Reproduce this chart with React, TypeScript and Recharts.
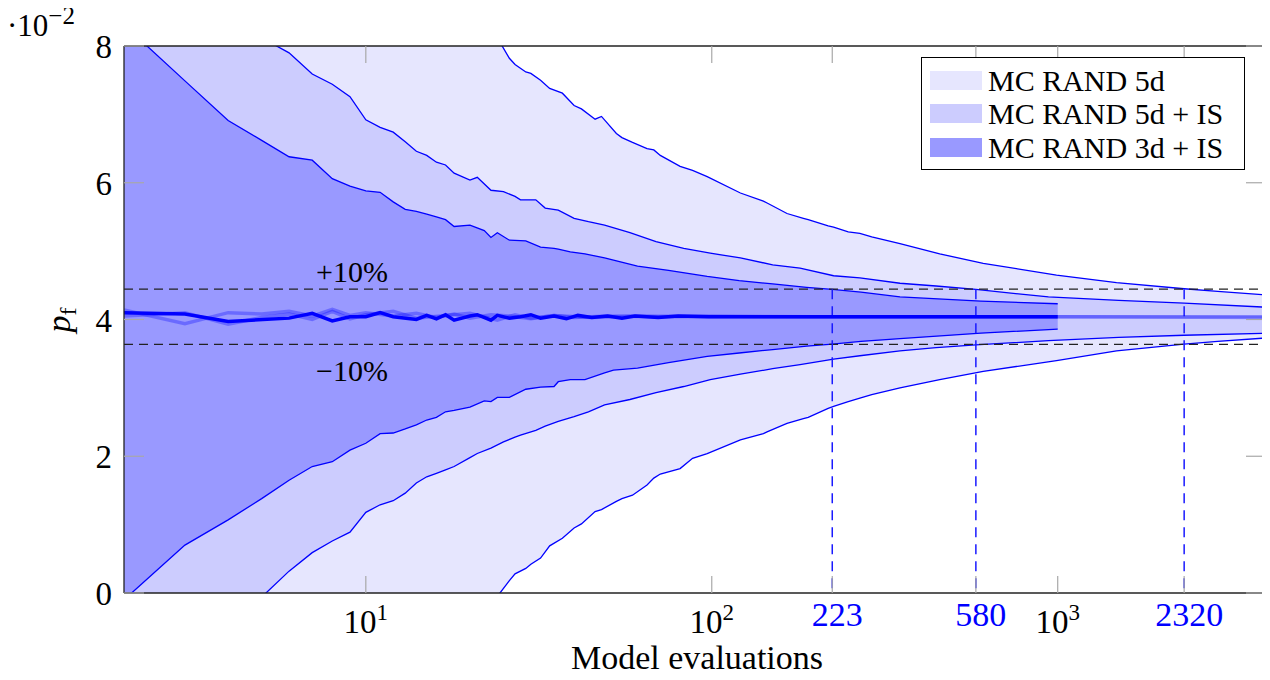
import React from 'react';
import { ComposedChart, Area, Line, XAxis, YAxis, ReferenceLine, Legend, Label } from 'recharts';

const FONT = "'Liberation Serif', 'DejaVu Serif', serif";

// ---------- axis / reference values ----------
const X_DOMAIN = [2, 4000];
const Y_DOMAIN = [0, 8];
const X_TICKS = [10, 100, 1000, 223, 580, 2320];
const POWER_TICKS = [10, 100, 1000];
const Y_TICKS = [0, 2, 4, 6, 8];
const PLUS_10 = 4.444;
const MINUS_10 = 3.636;
const CONVERGENCE_N = [223, 580, 2320];

// ---------- MC RAND 3d + IS ----------
const N_3D_IS = [2, 3, 4, 5, 6, 7, 8, 9, 10, 11, 12, 13, 14, 15, 16, 17, 18, 20, 22, 23, 24, 26, 29, 32, 35, 36, 39, 43, 49, 52, 61, 75, 97, 120, 150, 188, 223, 270, 350, 600, 1000];
const HI_3D_IS = [8.31, 7.49, 6.91, 6.62, 6.38, 6.33, 6.06, 5.95, 5.88, 5.86, 5.72, 5.61, 5.58, 5.54, 5.5, 5.46, 5.36, 5.38, 5.3, 5.2, 5.27, 5.16, 5.15, 5.06, 5.04, 5.03, 4.99, 4.96, 4.9, 4.87, 4.78, 4.72, 4.63, 4.57, 4.52, 4.47, 4.44, 4.4, 4.33, 4.27, 4.23];
const LO_3D_IS = [-0.1, 0.7, 1.07, 1.38, 1.65, 1.85, 1.92, 2.09, 2.19, 2.33, 2.34, 2.4, 2.46, 2.53, 2.57, 2.65, 2.67, 2.72, 2.81, 2.8, 2.86, 2.86, 2.98, 3.01, 3.02, 3.09, 3.12, 3.12, 3.22, 3.26, 3.29, 3.37, 3.46, 3.51, 3.56, 3.61, 3.64, 3.68, 3.72, 3.8, 3.86];

// ---------- MC RAND 5d + IS ----------
const N_5D_IS = [2, 3, 4, 5, 6, 7, 8, 9, 10, 11, 12, 13, 14, 15, 16, 17, 18, 20, 21, 23, 25, 27, 28, 31, 33, 36, 40, 44, 49, 58, 69, 83, 99, 121, 150, 180, 225, 268, 350, 445, 580, 940, 1500, 2320, 4000];
const HI_5D_IS = [10.5, 9.3, 8.6, 8.12, 7.9, 7.59, 7.44, 7.26, 6.92, 6.81, 6.74, 6.6, 6.46, 6.4, 6.3, 6.26, 6.14, 6.04, 6.08, 5.89, 5.87, 5.8, 5.75, 5.75, 5.63, 5.6, 5.48, 5.43, 5.38, 5.27, 5.14, 5.04, 4.97, 4.9, 4.8, 4.75, 4.64, 4.61, 4.53, 4.49, 4.44, 4.33, 4.28, 4.24, 4.18];
const LO_5D_IS = [-1.8, -1.0, -0.45, -0.06, 0.32, 0.59, 0.76, 0.89, 1.18, 1.29, 1.35, 1.46, 1.61, 1.7, 1.75, 1.8, 1.85, 1.98, 2.04, 2.12, 2.21, 2.28, 2.31, 2.38, 2.44, 2.51, 2.58, 2.65, 2.75, 2.83, 2.93, 3.02, 3.12, 3.2, 3.28, 3.34, 3.42, 3.47, 3.54, 3.59, 3.63, 3.69, 3.74, 3.77, 3.8];

// ---------- MC RAND 5d ----------
const N_5D = [2, 5, 10, 15, 20, 24, 26, 27, 29, 30, 32, 34, 37, 40, 42, 46, 48, 53, 55, 59, 65, 68, 71, 81, 88, 97, 121, 141, 145, 165, 184, 190, 217, 225, 248, 268, 290, 350, 456, 609, 992, 1479, 2320, 2900, 4000];
const HI_5D = [20, 13, 10.5, 9.3, 8.6, 8.12, 7.82, 7.73, 7.62, 7.6, 7.5, 7.38, 7.31, 7.13, 7.08, 6.93, 6.97, 6.72, 6.66, 6.59, 6.5, 6.48, 6.4, 6.24, 6.18, 6.09, 5.85, 5.73, 5.7, 5.55, 5.48, 5.46, 5.37, 5.35, 5.28, 5.26, 5.21, 5.11, 4.96, 4.82, 4.65, 4.54, 4.45, 4.41, 4.36];
const LO_5D = [-12, -5, -2.5, -1.2, -0.5, -0.05, 0.18, 0.28, 0.36, 0.42, 0.51, 0.69, 0.8, 0.95, 1.01, 1.19, 1.22, 1.34, 1.38, 1.43, 1.58, 1.68, 1.74, 1.82, 1.97, 2.04, 2.24, 2.33, 2.36, 2.48, 2.55, 2.57, 2.7, 2.73, 2.8, 2.85, 2.9, 3.0, 3.12, 3.24, 3.4, 3.54, 3.64, 3.68, 3.73];

// ---------- mean estimates ----------
const N_MEAN_3D_IS = [2, 3, 4, 6, 7, 8, 9, 10, 11, 12, 14, 15, 16, 17, 18, 20, 21, 23, 24, 26, 28, 30, 32, 35, 38, 41, 45, 50, 55, 60, 70, 80, 98, 150, 300, 1000];
const MEAN_3D_IS = [4.1, 4.08, 3.97, 4.02, 4.09, 3.98, 4.04, 4.04, 4.1, 4.04, 4.0, 4.06, 4.01, 4.07, 3.99, 4.05, 4.07, 3.99, 4.06, 4.02, 4.04, 4.07, 4.02, 4.05, 4.01, 4.06, 4.03, 4.05, 4.02, 4.05, 4.03, 4.05, 4.04, 4.04, 4.04, 4.04];
const N_MEAN_5D_IS = [2, 3, 4, 5, 6, 7, 8, 9, 10, 12, 14, 16, 18, 20, 23, 26, 30, 35, 40, 50, 70, 100, 200, 1000, 4000];
const MEAN_5D_IS = [4.14, 3.94, 4.1, 4.08, 4.12, 4.05, 4.15, 4.06, 4.1, 4.05, 4.09, 4.03, 4.08, 4.02, 4.07, 4.05, 4.01, 4.06, 4.03, 4.05, 4.04, 4.05, 4.04, 4.04, 4.03];
const N_MEAN_5D = [2, 3, 4, 5, 6, 7, 8, 9, 10, 12, 14, 17, 20, 24, 27, 30, 35, 45, 60, 100, 300, 1000, 4000];
const MEAN_5D = [4.05, 4.1, 3.93, 4.03, 4.08, 4.0, 4.12, 4.01, 4.07, 4.12, 4.02, 4.06, 4.09, 3.99, 4.07, 4.02, 4.06, 4.03, 4.05, 4.04, 4.04, 4.04, 4.04];

// ---------- legend ----------
const SERIES_LABELS = ['MC RAND 5d', 'MC RAND 5d + IS', 'MC RAND 3d + IS'];
const SERIES_FILLS = ['#e6e6fe', '#ccccfe', '#9999ff'];

const band = (ns: number[], lo: number[], hi: number[]) => ns.map((n, i) => ({ n, range: [lo[i], hi[i]] }));
const curve = (ns: number[], v: number[]) => ns.map((n, i) => ({ n, v: v[i] }));

const data5d = band(N_5D, LO_5D, HI_5D);
const data5dIs = band(N_5D_IS, LO_5D_IS, HI_5D_IS);
const data3dIs = band(N_3D_IS, LO_3D_IS, HI_3D_IS);
const mean5d = curve(N_MEAN_5D, MEAN_5D);
const mean5dIs = curve(N_MEAN_5D_IS, MEAN_5D_IS);
const mean3dIs = curve(N_MEAN_3D_IS, MEAN_3D_IS);

const TICK_GRAY = '#a8a8a8';
const TICK_LEN = 17;

const BottomTick = (props: any) => {
  const { x, y, payload } = props;
  const v = payload.value;
  const isPow = POWER_TICKS.includes(v);
  return (
    <g>
      <line x1={x} x2={x} y1={y} y2={y - TICK_LEN} stroke={TICK_GRAY} strokeWidth={1.2} />
      {isPow ? (
        <text x={x} y={y + 40} textAnchor="middle" fontFamily={FONT} fontSize={33} fill="#000">
          10<tspan dy={-13} fontSize={23}>{String(Math.round(Math.log10(v)))}</tspan>
        </text>
      ) : (
        <text x={x + 5} y={y + 33} textAnchor="middle" fontFamily={FONT} fontSize={34} fill="#0000ff">
          {v}
        </text>
      )}
    </g>
  );
};

const TopTick = (props: any) => {
  const { x, y } = props;
  return <line x1={x} x2={x} y1={y} y2={y + TICK_LEN} stroke={TICK_GRAY} strokeWidth={1.2} />;
};

const LeftTick = (props: any) => {
  const { x, y, payload } = props;
  return (
    <g>
      <line x1={x} x2={x + TICK_LEN + 3} y1={y} y2={y} stroke={TICK_GRAY} strokeWidth={1.2} />
      <text x={x - 12} y={y + 12} textAnchor="end" fontFamily={FONT} fontSize={33} fill="#000">
        {payload.value}
      </text>
    </g>
  );
};

const RightTick = (props: any) => {
  const { x, y } = props;
  return <line x1={x} x2={x - TICK_LEN - 3} y1={y} y2={y} stroke={TICK_GRAY} strokeWidth={1.2} />;
};

const YLabels = () => (
  <g>
    <text x={7} y={36} fontFamily={FONT} fontSize={31} fill="#000">
      ·10<tspan dy={-12} fontSize={25}>−2</tspan>
    </text>
    <text x={70} y={320} transform="rotate(-90, 70, 320)" textAnchor="middle" fontFamily={FONT} fontSize={34} fill="#000">
      <tspan fontStyle="italic">p</tspan>
      <tspan dy={6} fontSize={24}>f</tspan>
    </text>
  </g>
);

const XLabel = () => (
  <text x={697} y={669} textAnchor="middle" fontFamily={FONT} fontSize={34} fill="#000">
    Model evaluations
  </text>
);

const PlusLabel = (props: any) => {
  const vb = props.viewBox || {};
  return (
    <text x={vb.x + 228} y={vb.y - 7} textAnchor="middle" fontFamily={FONT} fontSize={30} fill="#000">
      +10%
    </text>
  );
};
const MinusLabel = (props: any) => {
  const vb = props.viewBox || {};
  return (
    <text x={vb.x + 228} y={vb.y + 37} textAnchor="middle" fontFamily={FONT} fontSize={30} fill="#000">
      −10%
    </text>
  );
};

const LegendBox = () => (
  <div
    style={{
      position: 'relative',
      width: 324,
      height: 113,
      border: '1.3px solid #000',
      background: '#fff',
      boxSizing: 'border-box',
      fontFamily: FONT,
    }}
  >
    {SERIES_LABELS.map((label, i) => {
      const cy = 22 + i * 33.5;
      return (
        <React.Fragment key={label}>
          <div
            style={{
              position: 'absolute',
              left: 8,
              top: cy - 9.5,
              width: 52,
              height: 19,
              background: SERIES_FILLS[i],
              boxSizing: 'border-box',
              border: `1px solid ${SERIES_FILLS[i]}`,
            }}
          />
          <div
            style={{
              position: 'absolute',
              left: 66,
              top: cy - 16.5,
              height: 33,
              lineHeight: '33px',
              fontSize: 30,
              color: '#000',
              whiteSpace: 'nowrap',
            }}
          >
            {label}
          </div>
        </React.Fragment>
      );
    })}
  </div>
);

export default function App() {
  return (
    <div style={{ margin: -8, width: 1270, height: 680 }}>
      <ComposedChart width={1270} height={680} margin={{ top: 45, right: 3, bottom: 27, left: 64 }}>
        <XAxis
          xAxisId="b"
          dataKey="n"
          type="number"
          scale="log"
          domain={X_DOMAIN}
          allowDataOverflow
          ticks={X_TICKS}
          interval={0}
          tick={<BottomTick />}
          tickLine={false}
          tickSize={0}
          tickMargin={0}
          height={60}
          axisLine={{ stroke: '#222', strokeWidth: 1.3 }}
        >
          <Label content={<XLabel />} />
        </XAxis>
        <XAxis
          xAxisId="t"
          orientation="top"
          dataKey="n"
          type="number"
          scale="log"
          domain={X_DOMAIN}
          allowDataOverflow
          ticks={X_TICKS}
          interval={0}
          tick={<TopTick />}
          tickLine={false}
          tickSize={0}
          tickMargin={0}
          height={1}
          axisLine={{ stroke: '#222', strokeWidth: 1.3 }}
        />
        <YAxis
          yAxisId="l"
          type="number"
          domain={Y_DOMAIN}
          allowDataOverflow
          ticks={Y_TICKS}
          interval={0}
          tick={<LeftTick />}
          tickLine={false}
          tickSize={0}
          tickMargin={0}
          width={60}
          axisLine={{ stroke: '#222', strokeWidth: 1.3 }}
        >
          <Label content={<YLabels />} />
        </YAxis>
        <YAxis
          yAxisId="r"
          orientation="right"
          type="number"
          domain={Y_DOMAIN}
          allowDataOverflow
          ticks={Y_TICKS}
          interval={0}
          tick={<RightTick />}
          tickLine={false}
          tickSize={0}
          tickMargin={0}
          width={1}
          axisLine={{ stroke: '#222', strokeWidth: 1.3 }}
        />

        <Area xAxisId="b" yAxisId="l" data={data5d} dataKey="range" type="linear" fill={SERIES_FILLS[0]} fillOpacity={1} stroke="#0000ff" strokeWidth={1.3} isAnimationActive={false} dot={false} activeDot={false} />
        <Area xAxisId="b" yAxisId="l" data={data5dIs} dataKey="range" type="linear" fill={SERIES_FILLS[1]} fillOpacity={1} stroke="#0000ff" strokeWidth={1.3} isAnimationActive={false} dot={false} activeDot={false} />
        <Area xAxisId="b" yAxisId="l" data={data3dIs} dataKey="range" type="linear" fill={SERIES_FILLS[2]} fillOpacity={1} stroke="#0000ff" strokeWidth={1.3} isAnimationActive={false} dot={false} activeDot={false} />

        <ReferenceLine xAxisId="b" yAxisId="l" y={PLUS_10} stroke="#222" strokeWidth={1.4} strokeDasharray="9 6" label={<PlusLabel />} />
        <ReferenceLine xAxisId="b" yAxisId="l" y={MINUS_10} stroke="#222" strokeWidth={1.4} strokeDasharray="9 6" label={<MinusLabel />} />
        {CONVERGENCE_N.map((n) => (
          <ReferenceLine
            key={n}
            xAxisId="b"
            yAxisId="l"
            segment={[
              { x: n, y: PLUS_10 },
              { x: n, y: 0 },
            ]}
            stroke="#1a1aff"
            strokeWidth={1.5}
            strokeDasharray="10 7"
          />
        ))}

        <Line xAxisId="b" yAxisId="l" data={mean5d} dataKey="v" type="linear" stroke="#0000ff" strokeOpacity={0.3} strokeWidth={3.5} dot={false} activeDot={false} isAnimationActive={false} />
        <Line xAxisId="b" yAxisId="l" data={mean5dIs} dataKey="v" type="linear" stroke="#0000ff" strokeOpacity={0.3} strokeWidth={3.5} dot={false} activeDot={false} isAnimationActive={false} />
        <Line xAxisId="b" yAxisId="l" data={mean3dIs} dataKey="v" type="linear" stroke="#0000ff" strokeWidth={3.5} dot={false} activeDot={false} isAnimationActive={false} />

        <Legend
          layout="vertical"
          align="center"
          verticalAlign="middle"
          content={<LegendBox />}
          wrapperStyle={{ position: 'absolute', left: 921, top: 57, width: 324, height: 113 }}
        />
      </ComposedChart>
    </div>
  );
}
